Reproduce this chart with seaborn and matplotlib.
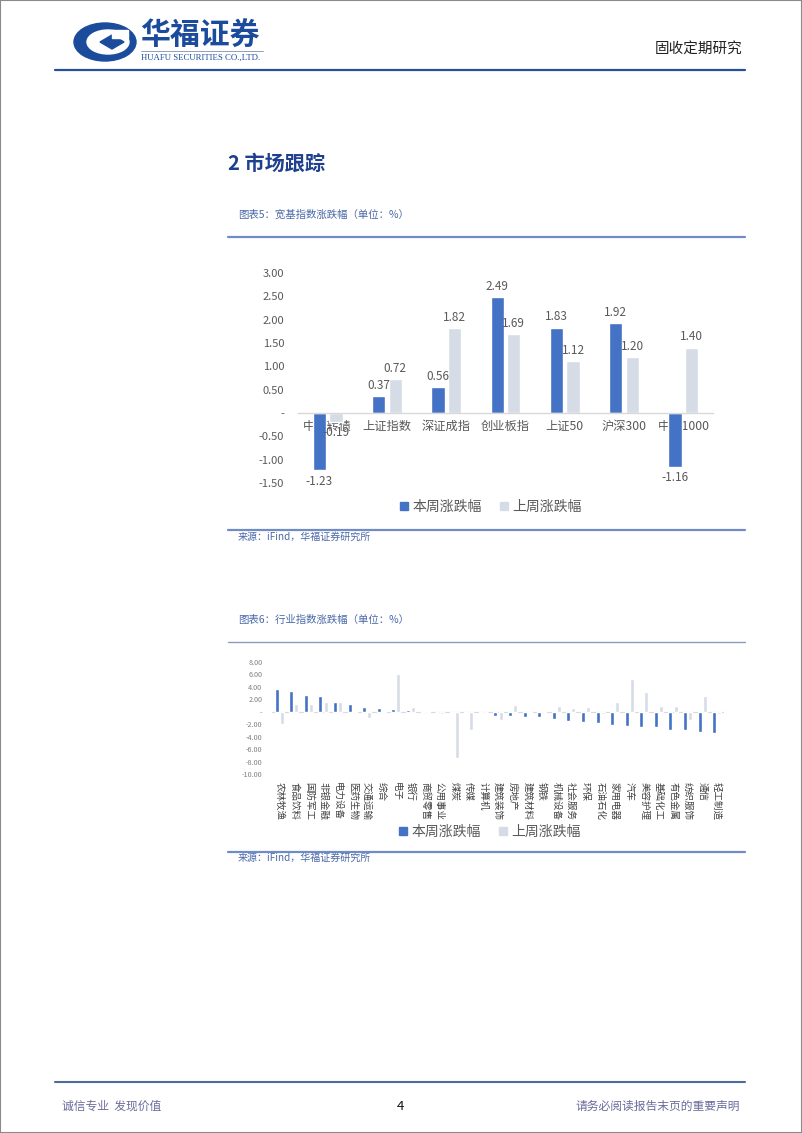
import numpy as np
import pandas as pd
import matplotlib
matplotlib.use("Agg")
import matplotlib.pyplot as plt
from matplotlib.patches import Ellipse, Rectangle, Patch, Polygon
from matplotlib.lines import Line2D
import seaborn as sns

# ---------------- data ----------------
series_names = ["本周涨跌幅", "上周涨跌幅"]

broad_cats = ["中证转债", "上证指数", "深证成指", "创业板指", "上证50", "沪深300", "中证1000"]
broad_this = [-1.23, 0.37, 0.56, 2.49, 1.83, 1.92, -1.16]
broad_last = [-0.19, 0.72, 1.82, 1.69, 1.12, 1.20, 1.40]
broad_yticks = [-1.5, -1.0, -0.5, 0.0, 0.5, 1.0, 1.5, 2.0, 2.5, 3.0]

ind_cats = ["农林牧渔", "食品饮料", "国防军工", "非银金融", "电力设备", "医药生物", "交通运输",
            "综合", "电子", "银行", "商贸零售", "公用事业", "煤炭", "传媒", "计算机",
            "建筑装饰", "房地产", "建筑材料", "钢铁", "机械设备", "社会服务", "环保",
            "石油石化", "家用电器", "汽车", "美容护理", "基础化工", "有色金属", "纺织服饰",
            "通信", "轻工制造"]
ind_this = [3.7, 3.4, 2.75, 2.5, 1.55, 1.3, 0.75, 0.6, 0.4, 0.3, 0.2, -0.1, -0.2, -0.2, -0.2,
            -0.65, -0.75, -0.85, -0.85, -1.1, -1.5, -1.6, -1.8, -2.1, -2.3, -2.4, -2.5,
            -3.0, -3.0, -3.3, -3.4]
ind_last = [-2.0, 1.2, 1.2, 1.5, 1.5, 0.05, -1.0, 0.05, 6.1, 0.8, 0.1, -0.3, -7.5, -2.9, -0.1,
            -1.3, 1.05, -0.2, 0.2, 0.95, 0.6, 0.8, -0.4, 1.6, 5.3, 3.1, 0.95, 0.9, -1.4,
            2.6, -0.3]
ind_yticks = [-10, -8, -6, -4, -2, 0, 2, 4, 6, 8]

# ---------------- style ----------------
sns.set_theme(style="white")
plt.rcParams["font.family"] = ["Noto Sans CJK SC", "DejaVu Sans"]
plt.rcParams["axes.unicode_minus"] = False

BLUE = "#4472C4"
LIGHT = "#D6DCE5"
GRAY = "#595959"
NAVY = "#1B4C9C"
CAP = "#4A68A8"

W, H = 802, 1133
fig = plt.figure(figsize=(W / 100, H / 100), dpi=100)


def fx(x):
    return x / W


def fy(y):
    return 1 - y / H


def T(x, y, s, **kw):
    fig.text(fx(x), fy(y), s, **kw)


def hline(x1, x2, y, color, lw):
    fig.add_artist(Line2D([fx(x1), fx(x2)], [fy(y), fy(y)], transform=fig.transFigure,
                          color=color, lw=lw))


def tick_fmt(v):
    return "-" if v == 0 else f"{v:.2f}"


# ---------------- page frame / header ----------------
fig.add_artist(Rectangle((0, 0), 1, 1, transform=fig.transFigure, fill=False,
                         edgecolor="#8a8a8a", lw=1.5))

# logo
fig.add_artist(Ellipse((fx(105), fy(42)), 62 / W, 38 / H, transform=fig.transFigure,
                       color=NAVY))
fig.add_artist(Ellipse((fx(108), fy(42)), 42 / W, 24 / H, transform=fig.transFigure,
                       color="white"))
fig.add_artist(Polygon([[fx(100), fy(42)], [fx(112), fy(35)], [fx(124), fy(42)],
                        [fx(112), fy(49)]], closed=True, transform=fig.transFigure,
                       color=NAVY))
fig.add_artist(Rectangle((fx(112), fy(38)), 16 / W, 8 / H, transform=fig.transFigure,
                         color="white"))
T(140, 36, "华福证券", fontsize=21.5, fontweight="bold", color=NAVY, va="center", ha="left")
hline(141, 263, 51, "#7f8fb0", 0.6)
T(141, 58, "HUAFU SECURITIES CO.,LTD.", fontsize=6.3, family=["Liberation Serif"],
  color=NAVY, va="center", ha="left")
T(742, 50, "固收定期研究", fontsize=10.5, color="#222222", va="center", ha="right")
hline(55, 745, 70, "#2a4f9a", 1.6)

# section title
T(228, 163, "2 市场跟踪", fontsize=14.5, fontweight="bold", color="#1f3f8f",
  va="center", ha="left")

# ---------------- chart 1 ----------------
T(238, 215, "图表5：宽基指数涨跌幅（单位：%）", fontsize=7.5, color=CAP, va="center",
  ha="left", style="italic")
hline(228, 745, 237, "#6f8cc4", 1.6)

df1 = pd.DataFrame({
    "指数": broad_cats * 2,
    "涨跌幅": broad_this + broad_last,
    "系列": [series_names[0]] * len(broad_cats) + [series_names[1]] * len(broad_cats),
})
ax1 = fig.add_axes([fx(298), fy(483), 415 / W, 210 / H])
sns.barplot(data=df1, x="指数", y="涨跌幅", hue="系列", palette=[BLUE, LIGHT],
            width=0.56, gap=0.2, saturation=1, errorbar=None, legend=False, ax=ax1)
ax1.set_ylim(-1.5, 3.0)
ax1.set_xlim(-0.5, len(broad_cats) - 0.5)
ax1.set_yticks(broad_yticks)
ax1.set_yticklabels([tick_fmt(v) for v in broad_yticks], color=GRAY, fontsize=8)
ax1.set_xlabel("")
ax1.set_ylabel("")
for s in ["top", "right", "left"]:
    ax1.spines[s].set_visible(False)
ax1.spines["bottom"].set_position(("data", 0))
ax1.spines["bottom"].set_color("#d9d9d9")
ax1.spines["bottom"].set_linewidth(1)
ax1.tick_params(axis="x", length=0, pad=5, labelsize=8.8, labelcolor=GRAY)
ax1.tick_params(axis="y", length=0, pad=10)
for c in ax1.containers:
    ax1.bar_label(c, fmt="%.2f", padding=3, fontsize=8.5, color=GRAY)
ax1.set_facecolor("none")
ax1.grid(False)

fig.legend(handles=[Patch(color=BLUE), Patch(color=LIGHT)], labels=series_names,
           loc="center", bbox_to_anchor=(fx(491), fy(507)), ncol=2, frameon=False,
           fontsize=10, handlelength=0.55, handleheight=0.55, handletextpad=0.35,
           columnspacing=1.3, labelcolor=GRAY)

hline(228, 745, 530, "#6f8cc4", 1.6)
T(238, 537, "来源：iFind，华福证券研究所", fontsize=7.2, color=CAP, va="center",
  ha="left", style="italic")

# ---------------- chart 2 ----------------
T(238, 620, "图表6：行业指数涨跌幅（单位：%）", fontsize=7.5, color=CAP, va="center",
  ha="left", style="italic")
hline(228, 745, 642, "#8a9bbd", 1.0)

df2 = pd.DataFrame({
    "行业": ind_cats * 2,
    "涨跌幅": ind_this + ind_last,
    "系列": [series_names[0]] * len(ind_cats) + [series_names[1]] * len(ind_cats),
})
ax2 = fig.add_axes([fx(272), fy(774), 452 / W, 112 / H])
sns.barplot(data=df2, x="行业", y="涨跌幅", hue="系列", palette=[BLUE, LIGHT],
            width=0.7, gap=0.22, saturation=1, errorbar=None, legend=False, ax=ax2)
ax2.set_ylim(-10, 8)
ax2.set_xlim(-0.5, len(ind_cats) - 0.5)
ax2.set_yticks(ind_yticks)
ax2.set_yticklabels([tick_fmt(v) for v in ind_yticks], color="#7f7f7f", fontsize=5.2)
ax2.set_xlabel("")
ax2.set_ylabel("")
for s in ["top", "right", "left", "bottom"]:
    ax2.spines[s].set_visible(False)
ax2.axhline(0, color="#d9d9d9", lw=0.8, zorder=0)
ax2.tick_params(axis="x", length=0, pad=6, labelsize=6.8, labelcolor="#404040",
                labelrotation=-90)
ax2.tick_params(axis="y", length=0, pad=7)
ax2.set_facecolor("none")
ax2.grid(False)

fig.legend(handles=[Patch(color=BLUE), Patch(color=LIGHT)], labels=series_names,
           loc="center", bbox_to_anchor=(fx(490), fy(832)), ncol=2, frameon=False,
           fontsize=10, handlelength=0.55, handleheight=0.55, handletextpad=0.35,
           columnspacing=1.3, labelcolor=GRAY)

hline(228, 745, 852, "#6f8cc4", 1.6)
T(238, 858, "来源：iFind，华福证券研究所", fontsize=7.2, color=CAP, va="center",
  ha="left", style="italic")

# ---------------- footer ----------------
hline(55, 745, 1082, "#4a6aa0", 1.5)
T(62, 1106, "诚信专业  发现价值", fontsize=8.5, color="#6b6b9b", va="center", ha="left")
T(400, 1106, "4", fontsize=9.5, color="#111111", va="center", ha="center")
T(740, 1106, "请务必阅读报告末页的重要声明", fontsize=8.5, color="#6b6b9b", va="center",
  ha="right")

fig.savefig("out.png", dpi=100)
